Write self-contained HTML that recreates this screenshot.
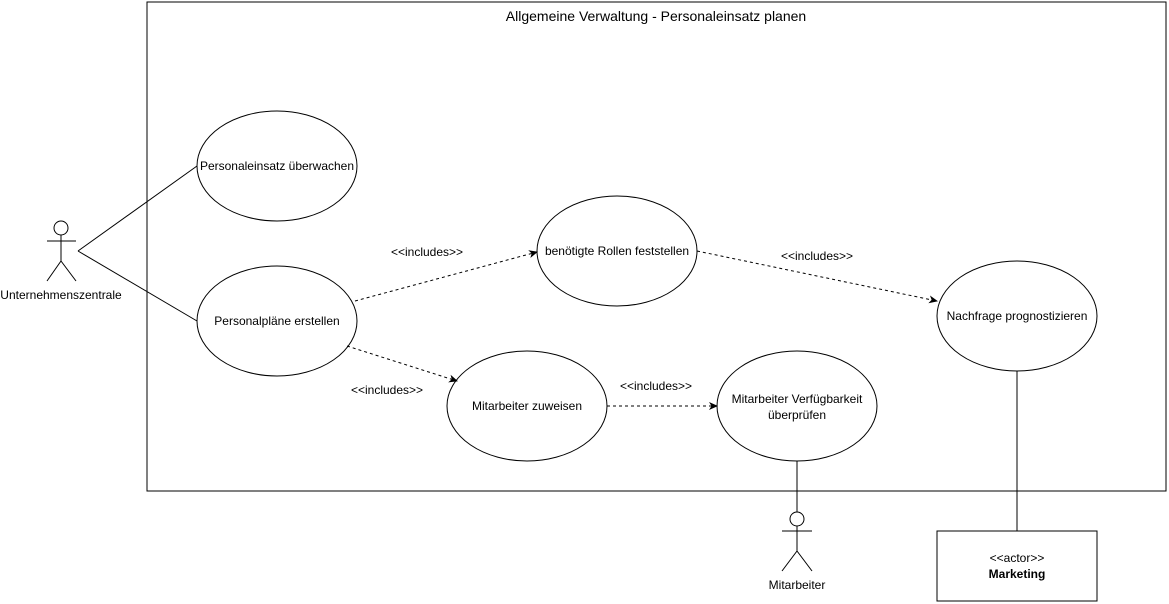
<!DOCTYPE html>
<html><head><meta charset="utf-8"><style>
html,body{margin:0;padding:0;background:#fff;}
svg{display:block;}
text{font-family:"Liberation Sans",Arial,sans-serif;fill:#000;}
</style></head><body>
<svg width="1169" height="604" viewBox="0 0 1169 604" xmlns="http://www.w3.org/2000/svg">
<defs>
<marker id="a" markerWidth="10" markerHeight="10" refX="8" refY="5" orient="auto" markerUnits="userSpaceOnUse">
<path d="M0,1 L9,5 L0,9 L2.5,5 Z" fill="#000"/>
</marker>
</defs>
<rect x="147" y="2" width="1019" height="489" fill="none" stroke="#000" stroke-width="1"/>
<text x="656" y="21" font-size="14" text-anchor="middle">Allgemeine Verwaltung - Personaleinsatz planen</text>

<g fill="none" stroke="#000" stroke-width="1">
<ellipse cx="277" cy="166" rx="80" ry="55"/>
<ellipse cx="277" cy="321" rx="80" ry="55"/>
<ellipse cx="617" cy="251" rx="80" ry="55"/>
<ellipse cx="527" cy="406" rx="80" ry="55"/>
<ellipse cx="797" cy="406" rx="80" ry="55"/>
<ellipse cx="1017" cy="316" rx="80" ry="55"/>
<line x1="78" y1="251" x2="197" y2="166"/>
<line x1="78" y1="251" x2="197" y2="321"/>
<circle cx="61" cy="228" r="7"/>
<line x1="61" y1="235" x2="61" y2="261"/>
<line x1="47" y1="241" x2="76" y2="241"/>
<line x1="61" y1="261" x2="47" y2="281"/>
<line x1="61" y1="261" x2="76" y2="281"/>
<line x1="797" y1="461" x2="797" y2="512"/>
<circle cx="797" cy="519" r="7"/>
<line x1="797" y1="526" x2="797" y2="551"/>
<line x1="782" y1="531" x2="812" y2="531"/>
<line x1="797" y1="551" x2="782" y2="571"/>
<line x1="797" y1="551" x2="812" y2="571"/>
<line x1="1017" y1="371" x2="1017" y2="531"/>
<rect x="937" y="531" width="160" height="70"/>
</g>
<g fill="none" stroke="#000" stroke-width="1" stroke-dasharray="3,3">
<line x1="355" y1="301" x2="537" y2="252" marker-end="url(#a)"/>
<line x1="347" y1="346" x2="457" y2="381" marker-end="url(#a)"/>
<line x1="607" y1="406" x2="717" y2="406" marker-end="url(#a)"/>
<line x1="697" y1="251" x2="937" y2="301" marker-end="url(#a)"/>
</g>
<g font-size="12" text-anchor="middle">
<text x="277" y="170">Personaleinsatz überwachen</text>
<text x="277" y="325">Personalpläne erstellen</text>
<text x="617" y="255">benötigte Rollen feststellen</text>
<text x="527" y="410">Mitarbeiter zuweisen</text>
<text x="797" y="403">Mitarbeiter Verfügbarkeit</text>
<text x="797" y="419">überprüfen</text>
<text x="1017" y="320">Nachfrage prognostizieren</text>
<text x="61" y="299">Unternehmenszentrale</text>
<text x="797" y="589">Mitarbeiter</text>
<text x="427" y="256">&lt;&lt;includes&gt;&gt;</text>
<text x="387" y="394">&lt;&lt;includes&gt;&gt;</text>
<text x="656" y="390">&lt;&lt;includes&gt;&gt;</text>
<text x="817" y="260">&lt;&lt;includes&gt;&gt;</text>
<text x="1017" y="562">&lt;&lt;actor&gt;&gt;</text>
<text x="1017" y="578" font-weight="bold">Marketing</text>
</g>
</svg>
</body></html>
